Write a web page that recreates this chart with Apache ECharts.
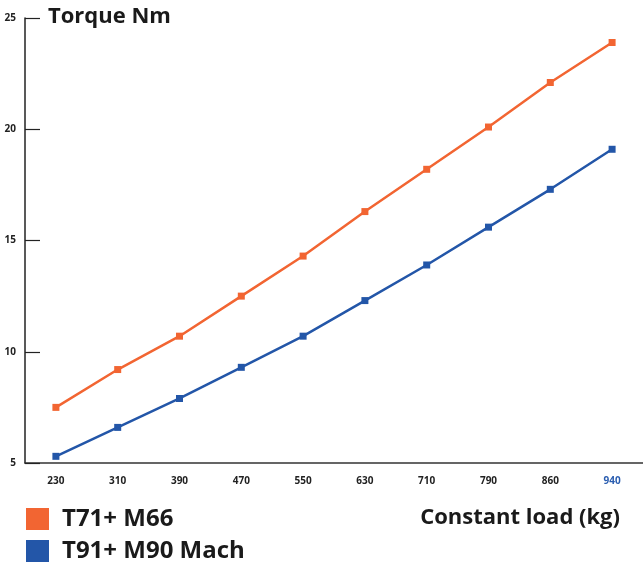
<!DOCTYPE html>
<html><head><meta charset="utf-8">
<script src="https://cdn.jsdelivr.net/npm/echarts@6/dist/echarts.min.js"></script>
<style>html,body{margin:0;padding:0;background:#fff}#c{width:643px;height:565px}</style>
</head><body><div id="c"></div>
<script>
const categories = ['230','310','390','470','550','630','710','790','860','940'];
const seriesNames = ['T71+ M66','T91+ M90 Mach'];
const t71 = [7.5, 9.2, 10.7, 12.5, 14.3, 16.3, 18.2, 20.1, 22.1, 23.9];
const t91 = [5.3, 6.6, 7.9, 9.3, 10.7, 12.3, 13.9, 15.6, 17.3, 19.1];
const yTicks = [5, 10, 15, 20, 25];
const colors = ['#f26532', '#2356a8'];
const font = '"Open Sans", "Noto Sans", sans-serif';
const legendText = {fontFamily: font, fontSize: 24, fontWeight: 'bold', color: '#1a1a1a', padding: [0,0,0,8]};

const chart = echarts.init(document.getElementById('c'));
chart.setOption({
  animation: false,
  backgroundColor: '#fff',
  title: [
    {text: 'Torque Nm', left: 43, top: 1, textStyle: {fontFamily: font, fontSize: 22, fontWeight: 'bold', color: '#1a1a1a'}},
    {text: 'Constant load (kg)', right: 18, top: 502, textStyle: {fontFamily: font, fontSize: 22, fontWeight: 'bold', color: '#1a1a1a'}}
  ],
  legend: [
    {left: 21, top: 502, itemWidth: 23, itemHeight: 22, icon: 'rect', data: [seriesNames[0]], textStyle: legendText},
    {left: 21, top: 534, itemWidth: 23, itemHeight: 22, icon: 'rect', data: [seriesNames[1]], textStyle: legendText}
  ],
  grid: {left: 25, top: 18, width: 620, height: 445, containLabel: false},
  xAxis: {
    type: 'category', data: categories, boundaryGap: true,
    axisLine: {lineStyle: {color: '#333', width: 1.5}},
    axisTick: {inside: true, length: 12, lineStyle: {color: '#333', width: 1.2}},
    axisLabel: {margin: 13, fontFamily: font, fontSize: 10, fontWeight: 'bold',
      color: (v) => v === '940' ? '#2a5db0' : '#222'}
  },
  yAxis: {
    type: 'value', min: yTicks[0], max: yTicks[yTicks.length-1], interval: 5,
    axisLine: {show: true, lineStyle: {color: '#222', width: 1.5}},
    axisTick: {show: true, inside: true, length: 15, lineStyle: {color: '#222', width: 1.2}},
    splitLine: {show: false},
    axisLabel: {margin: 9, fontFamily: font, fontSize: 10, fontWeight: 'bold', color: '#222'}
  },
  series: [
    {name: seriesNames[0], type: 'line', data: t71, symbol: 'rect', symbolSize: 7,
     itemStyle: {color: colors[0]}, lineStyle: {color: colors[0], width: 2.5}},
    {name: seriesNames[1], type: 'line', data: t91, symbol: 'rect', symbolSize: 7,
     itemStyle: {color: colors[1]}, lineStyle: {color: colors[1], width: 2.5}}
  ]
});
</script></body></html>
